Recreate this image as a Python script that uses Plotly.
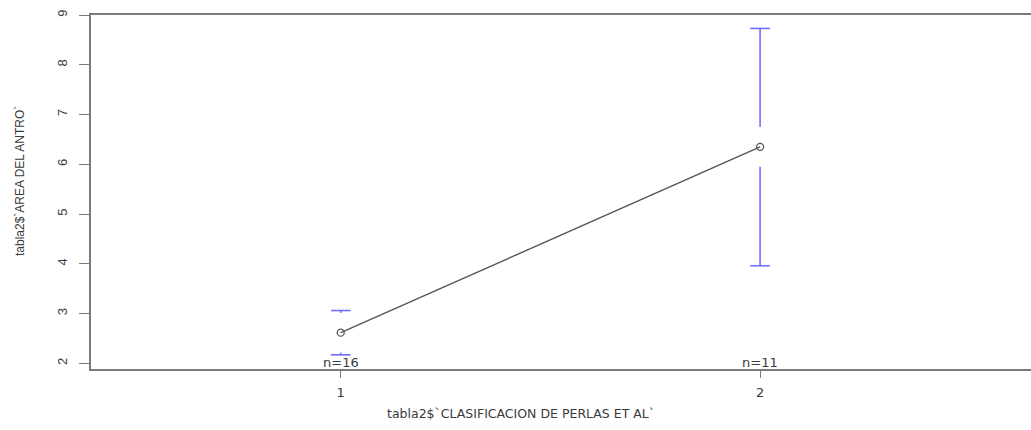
import plotly.graph_objects as go

# Group means of antrum area by Perlas et al. classification, with CI limits
groups = [1, 2]
means = [2.615, 6.35]
ci_upper = [3.06, 8.73]
ci_lower = [2.17, 3.96]
counts = [16, 11]
y_ticks = [2, 3, 4, 5, 6, 7, 8, 9]

GAP = 0.40          # gap left around each mean point (y units)
BLUE = "#6f6fff"
AXIS = "#7a7a7a"
INK = "#555555"
TEXT = "#3a3a3a"

fig = go.Figure()

# confidence interval bars, split around each mean point
for g, m, hi, lo in zip(groups, means, ci_upper, ci_lower):
    if hi > m + GAP:
        fig.add_trace(go.Scatter(x=[g, g], y=[hi, m + GAP], mode="lines",
                                 line=dict(color=BLUE, width=1.6),
                                 showlegend=False, hoverinfo="skip"))
    if lo < m - GAP:
        fig.add_trace(go.Scatter(x=[g, g], y=[m - GAP, lo], mode="lines",
                                 line=dict(color=BLUE, width=1.6),
                                 showlegend=False, hoverinfo="skip"))

# caps
fig.add_trace(go.Scatter(x=groups + groups, y=ci_upper + ci_lower, mode="markers",
                         marker=dict(symbol="line-ew", size=14,
                                     line=dict(color=BLUE, width=1.6)),
                         showlegend=False, hoverinfo="skip"))

# means joined by a line
fig.add_trace(go.Scatter(x=groups, y=means, mode="lines+markers",
                         line=dict(color=INK, width=1.4),
                         marker=dict(symbol="circle-open", size=7,
                                     line=dict(color=INK, width=1.3)),
                         showlegend=False))

# sample sizes along the bottom of the panel
for g, n in zip(groups, counts):
    fig.add_annotation(x=g, y=1.885, xref="x", yref="y", text=f"n={n}",
                       showarrow=False, yanchor="bottom", yshift=-3,
                       font=dict(family="DejaVu Sans", size=13, color=TEXT))

# axis titles
fig.add_annotation(x=0.457, y=0, xref="paper", yref="paper",
                   text="tabla2$`CLASIFICACION DE PERLAS ET AL`",
                   showarrow=False, yanchor="middle", yshift=-44,
                   font=dict(family="DejaVu Sans", size=12.5, color=TEXT))
fig.add_annotation(x=0, y=0.531, xref="paper", yref="paper",
                   text="tabla2$`AREA DEL ANTRO`", textangle=-90,
                   showarrow=False, xanchor="center", xshift=-71,
                   font=dict(family="Liberation Sans", size=12, color=TEXT))

fig.update_layout(
    width=1031, height=430, autosize=False,
    margin=dict(l=91, r=0, t=15, b=61),
    plot_bgcolor="white", paper_bgcolor="white",
    xaxis=dict(range=[0.4045, 2.646], tickvals=groups,
               ticktext=[str(g) for g in groups],
               showgrid=False, zeroline=False,
               showline=True, mirror=True, linecolor=AXIS, linewidth=1.5,
               ticks="outside", ticklen=7, tickcolor=AXIS, tickwidth=1.3,
               ticklabelstandoff=4,
               tickfont=dict(family="DejaVu Sans", size=13, color=TEXT)),
    yaxis=dict(range=[1.885, 9.0], tickvals=y_ticks,
               showgrid=False, zeroline=False,
               showline=True, mirror=False, linecolor=AXIS, linewidth=1.5,
               ticks="outside", ticklen=10, tickcolor=AXIS, tickwidth=1.3,
               tickangle=-90, ticklabelstandoff=7,
               tickfont=dict(family="Liberation Sans", size=13, color=TEXT)),
)

fig.write_html("out.html")
